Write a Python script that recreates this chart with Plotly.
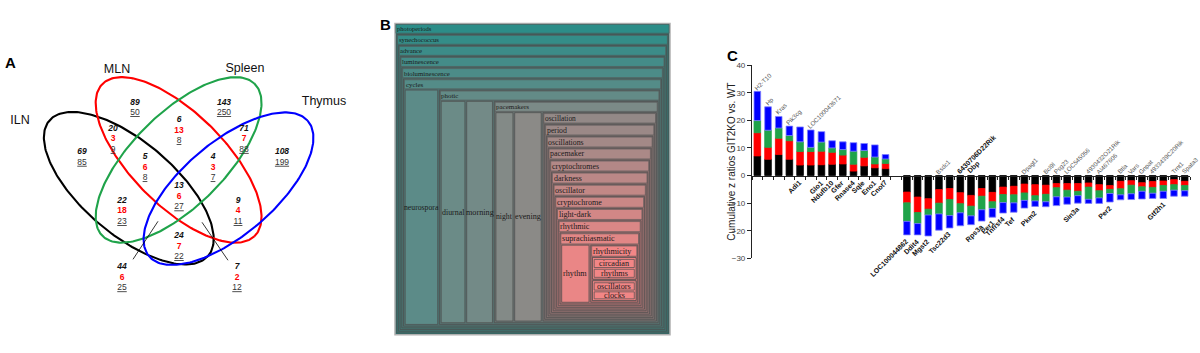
import numpy as np
import plotly.graph_objects as go

W, H = 1200, 353

# ------------------------------------------------------------------ Panel A data
set_names = ["ILN", "MLN", "Spleen", "Thymus"]
venn_italic = [89, 143, 69, 108, 20, 6, 71, 5, 4, 13, 22, 9, 24, 44, 7]
venn_red = [None, None, None, None, 3, 13, 7, 6, 3, 6, 18, 4, 7, 6, 2]
venn_under = [50, 250, 85, 199, 9, 8, 88, 8, 7, 27, 23, 11, 22, 25, 12]

# ------------------------------------------------------------------ Panel B data
tm_ids = ["photoperiods", "synechococcus", "advance", "luminescence", "bioluminescence",
          "cycles", "neurospora", "photic", "diurnal", "morning", "pacemakers", "night",
          "evening", "oscillation", "period", "oscillations", "pacemaker", "cryptochromes",
          "darkness", "oscillator", "cryptochrome", "light-dark", "rhythmic",
          "suprachiasmatic", "rhythm", "rhythmicity", "grpA", "circadian", "rhythms",
          "grpB", "oscillators", "clocks"]
tm_labels = [("" if i.startswith("grp") else i) for i in tm_ids]
tm_parents = ["", "photoperiods", "synechococcus", "advance", "luminescence",
              "bioluminescence", "cycles", "cycles", "photic", "photic", "photic", "pacemakers",
              "pacemakers", "pacemakers", "oscillation", "period", "oscillations", "pacemaker",
              "cryptochromes", "darkness", "oscillator", "cryptochrome", "light-dark",
              "rhythmic", "suprachiasmatic", "suprachiasmatic", "rhythmicity", "grpA", "grpA",
              "rhythmicity", "grpB", "grpB"]
# relative size of each cell among its siblings
tm_sizes = [1, 1, 1, 1, 1, 1, 32, 217, 23, 25, 159, 16, 25, 107, 1, 1, 1, 1, 1, 1, 1, 1, 1,
            1, 25, 43, 23, 10, 10, 21, 10.5, 10]

# ------------------------------------------------------------------ Panel C data
genes = ["H2-T10", "Hp", "Kras", "Pik3cg", "Adi1", "LOC100043671", "Glo1", "Ndufb10", "Gfer",
         "Rnase4", "Sqle", "Eno1", "Cnot7",
         "LOC100044862", "Ddit4", "Mgst2", "Bsdc1", "Tsc22d3", "6430706D22Rik", "Dbp", "Rps3a",
         "Per1", "Tnfrsf4", "Tef", "Dpagt1", "Pkm2", "Bcl9l", "Psg23", "LOC545056", "Sin3a",
         "4930432O21Rik", "AI467606", "Per2", "Btla", "Vars", "Gnpat", "4933439C20Rik",
         "Gtf2h1", "Trnt1", "Spata3"]
z_black = [7.1, 5.9, 7.6, 5.9, 3.8, 3.8, 3.9, 4.1, 4.2, 1.6, 3.5, 2.8, 2.5,
           -6.0, -7.8, -8.4, -5.1, -4.7, -6.2, -7.2, -4.7, -6.1, -4.2, -3.9, -3.1, -3.3, -3.5,
           -2.9, -2.9, -2.9, -2.7, -3.3, -3.6, -2.1, -1.9, -2.6, -2.2, -2.0, -1.5, -2.1]
z_red = [8.4, 4.3, 5.9, 6.7, 4.9, 4.9, 4.9, 4.3, 3.2, 2.5, 3.1, 1.4, 1.9,
         -3.9, -5.6, -3.8, -4.9, -4.0, -4.0, -3.9, -2.8, -3.4, -2.7, -3.1, -3.2, -4.0, -3.3,
         -1.5, -2.4, -2.8, -1.5, -2.2, -1.4, -2.7, -1.6, -1.5, -2.1, -1.6, -1.8, -1.5]
z_green = [4.4, 6.2, 3.7, 1.9, 3.5, 1.5, 3.3, 1.6, 2.0, 4.7, 2.5, 2.5, 1.6,
           -6.7, -4.0, -2.1, -3.9, -5.8, -3.3, -3.5, -4.9, -2.4, -2.9, -2.9, -2.7, -1.9, -2.7,
           -3.3, -2.5, -1.6, -4.4, -2.6, -1.5, -2.2, -3.1, -1.6, -2.1, -2.1, -2.0, -1.9]
z_blue = [10.6, 8.5, 4.2, 3.4, 5.4, 6.3, 3.8, 2.6, 2.8, 3.1, 2.5, 4.4, 1.6,
          -4.9, -4.1, -7.6, -5.9, -4.5, -4.7, -3.2, -4.1, -3.2, -3.8, -3.4, -2.8, -2.0, -1.8,
          -3.2, -2.6, -2.7, -1.5, -2.0, -3.1, -1.8, -2.1, -2.8, -1.9, -2.6, -2.2, -2.0]
# 1 = label beyond the bar end, 0 = label on the other side of the axis
label_at_end = [1, 1, 1, 1, 0, 1, 0, 0, 0, 0, 0, 0, 0,
                1, 1, 1, 0, 1, 0, 0, 1, 1, 1, 1, 0, 1, 0, 0, 0, 1, 0, 0, 1, 0, 0, 0, 0, 1, 0, 0]
label_bold = [0, 0, 0, 0, 1, 0, 1, 1, 1, 1, 1, 1, 1,
              1, 1, 1, 0, 1, 1, 1, 1, 1, 1, 1, 0, 1, 0, 0, 0, 1, 0, 0, 1, 0, 0, 0, 0, 1, 0, 0]
yticks_c = [-30, -20, -10, 0, 10, 20, 30, 40]
y_title_c = "Cumulative z ratios GIT2KO vs. WT"

# ================================================================== figure
fig = go.Figure()

# ---------------- Panel A : Venn (pixel-like axis x2/y2)
ell_geom = [(128.8, 189, 105.5, 47, 41.5), (178.6, 160, 109, 47, 46),
            (178.6, 160, 109, 47, -46), (228.5, 189.5, 105.5, 47, -41.5)]
set_colors = ["#000000", "#ff0000", "#1fa34a", "#0000ff"]
t = np.linspace(0, 2 * np.pi, 240)
for (cx, cy, a, b, ang), col in zip(ell_geom, set_colors):
    th = np.radians(ang)
    ex = cx + a * np.cos(t) * np.cos(th) - b * np.sin(t) * np.sin(th)
    ey = cy + a * np.cos(t) * np.sin(th) + b * np.sin(t) * np.cos(th)
    fig.add_trace(go.Scatter(x=ex, y=ey, mode="lines", line=dict(color=col, width=2.1),
                             xaxis="x2", yaxis="y2", hoverinfo="skip", showlegend=False))

fig.add_trace(go.Scatter(x=[133, 158, None, 228, 202], y=[262, 223, None, 263, 224],
                         mode="lines", line=dict(color="#000", width=0.8),
                         xaxis="x2", yaxis="y2", hoverinfo="skip", showlegend=False))

set_label_xy = [(20, 120), (117, 68), (245, 67), (324, 100)]
fig.add_trace(go.Scatter(x=[p[0] for p in set_label_xy], y=[p[1] for p in set_label_xy],
                         text=set_names, mode="text",
                         textfont=dict(family="Arial", size=12.5, color="#111"),
                         xaxis="x2", yaxis="y2", hoverinfo="skip", showlegend=False))

venn_xy = [(135, 101), (224, 101), (82, 152), (282, 152), (113, 128), (179, 119),
           (244, 128), (145, 157), (213, 157), (179, 187), (122, 202), (238, 202),
           (179, 238), (122, 270), (237, 270)]
LS = 10.8
ix, iy, rx, ry, ux, uy, rt = [], [], [], [], [], [], []
for (px, py), rv in zip(venn_xy, venn_red):
    ix.append(px); iy.append(py)
    if rv is not None:
        rx.append(px); ry.append(py + LS); rt.append(str(rv))
        ux.append(px); uy.append(py + 2 * LS)
    else:
        ux.append(px); uy.append(py + LS)
fig.add_trace(go.Scatter(x=ix, y=iy, text=[str(v) for v in venn_italic], mode="text",
                         textfont=dict(family="Arial", size=8.5, color="#111",
                                       weight="bold", style="italic"),
                         xaxis="x2", yaxis="y2", hoverinfo="skip", showlegend=False))
fig.add_trace(go.Scatter(x=rx, y=ry, text=rt, mode="text",
                         textfont=dict(family="Arial", size=8.5, color="#ff0000", weight="bold"),
                         xaxis="x2", yaxis="y2", hoverinfo="skip", showlegend=False))
fig.add_trace(go.Scatter(x=ux, y=uy, text=[str(v) for v in venn_under], mode="text",
                         textfont=dict(family="Arial", size=8.5, color="#333",
                                       lineposition="under"),
                         xaxis="x2", yaxis="y2", hoverinfo="skip", showlegend=False))

# ---------------- Panel B : nested box layout (pixel-like axis x3/y3)
fig.add_trace(go.Scatter(x=[], y=[], xaxis="x3", yaxis="y3", hoverinfo="skip",
                         showlegend=False))
children = {i: [] for i in tm_ids}
for i, p in zip(tm_ids, tm_parents):
    if p:
        children[p].append(i)
size_of = dict(zip(tm_ids, tm_sizes))
label_of = dict(zip(tm_ids, tm_labels))
order_of = {nid: k for k, nid in enumerate(tm_ids)}
stack_vertical = {"rhythmicity", "grpA", "grpB"}
PAD, PADB, GAP = 1.7, 1.75, 1.8
TEAL = np.array([44, 141, 136])
PINK = np.array([242, 134, 134])
DARK = np.array([64, 64, 64])


def font_for(d):
    return float(np.interp(d, [0, 7, 9, 20], [6.6, 7.0, 7.8, 8.3]))


def hdr_for(nid, d):
    return 0.8 * font_for(d) + 6.0 if label_of[nid] else 2.0


def rgb_for(nid, mix=0.0):
    f = min(1.0, order_of[nid] / 25.0)
    c = (1 - f) * TEAL + f * PINK
    c = (1 - mix) * c + mix * DARK
    return "rgb(%d,%d,%d)" % tuple(int(round(v)) for v in c)


boxes = []


def place(nid, x0, y0, x1, y1, d):
    boxes.append((nid, x0, y0, x1, y1, d))
    kids = children[nid]
    if not kids:
        return
    hdr = hdr_for(nid, d)
    ix0, iy0, ix1, iy1 = x0 + PAD, y0 + hdr, x1 - PAD, y1 - PADB
    tot = sum(size_of[k] for k in kids)
    if nid in stack_vertical:
        avail = (iy1 - iy0) - GAP * (len(kids) - 1)
        yc = iy0
        for k in kids:
            hk = avail * size_of[k] / tot
            place(k, ix0, yc, ix1, yc + hk, d + 1)
            yc += hk + GAP
    else:
        avail = (ix1 - ix0) - GAP * (len(kids) - 1)
        xc = ix0
        for k in kids:
            wk = avail * size_of[k] / tot
            place(k, xc, iy0, xc + wk, iy1, d + 1)
            xc += wk + GAP


root = [i for i, p in zip(tm_ids, tm_parents) if not p][0]
place(root, 395, 20, 670, 339.3, 0)

for nid, x0, y0, x1, y1, d in boxes:
    is_parent = bool(children[nid])
    if is_parent:
        fig.add_shape(type="rect", xref="x3", yref="y3", x0=x0, y0=y0, x1=x1, y1=y1,
                      fillcolor=rgb_for(nid, 0.32),
                      line=dict(color="#b0b0b0" if d == 0 else "#4d4d4d",
                                width=1.5 if d == 0 else 0.7))
        if label_of[nid]:
            hdr = hdr_for(nid, d)
            fig.add_shape(type="rect", xref="x3", yref="y3", x0=x0 + 0.9, y0=y0 + 0.9,
                          x1=x1 - 0.9, y1=y0 + hdr - 1.3, fillcolor=rgb_for(nid),
                          line=dict(color="#555555", width=0.6))
            fig.add_annotation(x=x0 + 1.0, y=y0 + 0.9 + (hdr - 2.2) / 2, xref="x3", yref="y3",
                               text=label_of[nid], showarrow=False, xanchor="left",
                               yanchor="middle", borderpad=0,
                               font=dict(family="Liberation Serif", size=font_for(d),
                                         color="#1b1b1b"))
        else:
            fig.add_shape(type="rect", xref="x3", yref="y3", x0=x0, y0=y0, x1=x1, y1=y1,
                          fillcolor=rgb_for(nid), line=dict(color="#4d4d4d", width=0.7))
    else:
        fig.add_shape(type="rect", xref="x3", yref="y3", x0=x0, y0=y0, x1=x1, y1=y1,
                      fillcolor=rgb_for(nid), line=dict(color="#4d4d4d", width=0.7))
        lab = label_of[nid]
        fs = min(8.2, (x1 - x0 - 1.5) / (0.40 * len(lab)))
        fig.add_annotation(x=(x0 + x1) / 2, y=(y0 + y1) / 2, xref="x3", yref="y3",
                           text=lab, showarrow=False, xanchor="center", yanchor="middle",
                           borderpad=0,
                           font=dict(family="Liberation Serif", size=fs, color="#1b1b1b"))

# ---------------- Panel C : stacked bars
n_pos = sum(1 for v in z_black if v > 0)
xpos = [i if i < n_pos else i + 1 for i in range(len(genes))]
bar_cols = ["#000000", "#ff0000", "#1fa34a", "#0000ff"]
for vals, col in zip([z_black, z_red, z_green, z_blue], bar_cols):
    fig.add_trace(go.Bar(x=xpos, y=vals, width=0.62,
                         marker=dict(color=col,
                                     line=dict(color="#8080ff" if col == "#0000ff" else col,
                                               width=0.8)),
                         xaxis="x", yaxis="y", hoverinfo="skip", showlegend=False))

for i, g in enumerate(genes):
    tot = z_black[i] + z_red[i] + z_green[i] + z_blue[i]
    pos = tot > 0
    if label_at_end[i]:
        yv, up = tot, pos
    else:
        yv, up = 0, not pos
    bold = label_bold[i]
    txt = "<b>%s</b>" % g if bold else g
    if up:
        kw = dict(xanchor="left", yanchor="bottom", xshift=-6, yshift=-1)
    else:
        kw = dict(xanchor="right", yanchor="top", xshift=4, yshift=-1 if label_at_end[i] else -2)
    fig.add_annotation(x=xpos[i], y=yv, xref="x", yref="y", text=txt, textangle=-45,
                       showarrow=False, borderpad=0,
                       font=dict(family="Arial", size=7 if bold else 6.2,
                                 color="#111" if bold else "#555"),
                       **kw)

ydom = [1 - 261 / H, 1 - 62.7 / H]
ymin, ymax = -30, 40
xaxis_pos = ydom[0] + (0 - ymin) / (ymax - ymin) * (ydom[1] - ydom[0])
n_slots = len(genes) + 1

fig.add_annotation(x=732 / W, y=(ydom[0] + ydom[1]) / 2, xref="paper", yref="paper",
                   text=y_title_c, textangle=-90, showarrow=False, xanchor="center",
                   yanchor="middle", font=dict(family="Arial", size=10, color="#222"))

fig.update_layout(
    width=W, height=H, margin=dict(l=0, r=0, t=0, b=0),
    paper_bgcolor="white", plot_bgcolor="rgba(0,0,0,0)",
    barmode="relative", showlegend=False,
    xaxis=dict(domain=[752 / W, 1190 / W], range=[-0.5, n_slots - 0.5], anchor="free",
               position=xaxis_pos, showline=True, linecolor="#222", linewidth=1,
               ticks="outside", ticklen=3, tickcolor="#222", tickwidth=1,
               tickvals=[k - 0.5 for k in range(n_slots + 1)], showticklabels=False,
               showgrid=False, zeroline=False, fixedrange=True),
    yaxis=dict(domain=ydom, range=[ymin, ymax], anchor="x", showline=True, linecolor="#222",
               linewidth=1.2, ticks="outside", ticklen=4, tickcolor="#222",
               tickvals=yticks_c, tickfont=dict(family="Arial", size=8, color="#444"),
               showgrid=False, zeroline=False, fixedrange=True),
    xaxis2=dict(domain=[0, 360 / W], range=[0, 360], visible=False, anchor="y2",
                fixedrange=True),
    yaxis2=dict(domain=[0, 1], range=[H, 0], visible=False, anchor="x2", fixedrange=True),
    xaxis3=dict(domain=[360 / W, 700 / W], range=[360, 700], visible=False, anchor="y3",
                fixedrange=True),
    yaxis3=dict(domain=[0, 1], range=[H, 0], visible=False, anchor="x3", fixedrange=True),
)

for letter, px, py in [("A", 10, 60), ("B", 385, 21), ("C", 732, 53)]:
    fig.add_annotation(x=px / W, y=1 - py / H, xref="paper", yref="paper",
                       text="<b>%s</b>" % letter, showarrow=False, xanchor="center",
                       yanchor="middle", font=dict(family="Arial", size=15, color="#000"))

fig.write_html("out.html")
